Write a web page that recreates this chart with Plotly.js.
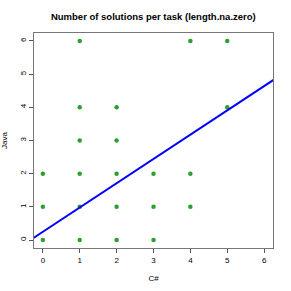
<!DOCTYPE html>
<html><head><meta charset="utf-8">
<script src="https://cdn.plot.ly/plotly-3.0.1.min.js"></script>
<style>html,body{margin:0;padding:0;background:#fff}#c{width:291px;height:291px}</style>
</head><body><div id="c"></div>
<script>
const csharp = [1,4,5, 1,2,5, 1,2, 0,1,2,3,4, 0,1,2,3,4, 0,1,2,3];
const java   = [6,6,6, 4,4,4, 3,3, 2,2,2,2,2, 1,1,1,1,1, 0,0,0,0];
const fitIntercept = 0.25;
const fitSlope = 0.732;
const lineX = [-0.5, 6.5];
const lineY = lineX.map(x => fitIntercept + fitSlope * x);
const xTicks = [0,1,2,3,4,5,6];
const yTicks = [0,1,2,3,4,5,6];

const font = {family: 'Liberation Sans, Arial, sans-serif', color: '#000'};
Plotly.newPlot('c', [
  {x: csharp, y: java, type: 'scatter', mode: 'markers',
   marker: {color: '#2ca02c', size: 4.5}, cliponaxis: true, hoverinfo: 'none'},
  {x: lineX, y: lineY, type: 'scatter', mode: 'lines',
   line: {color: '#0000ff', width: 2}, hoverinfo: 'none'}
], {
  width: 291, height: 291,
  margin: {l: 34, r: 18, t: 33, b: 43},
  paper_bgcolor: '#fff', plot_bgcolor: '#fff',
  showlegend: false,
  font: Object.assign({size: 8}, font),
  title: {text: '<b>Number of solutions per task (length.na.zero)</b>', x: 0.527, xanchor: 'center', y: 0.942, yanchor: 'middle',
          font: Object.assign({size: 9.5}, font)},
  xaxis: {range: [-0.24, 6.24], tickvals: xTicks, ticktext: xTicks.map(String),
          showgrid: false, zeroline: false, showline: true, mirror: true, linecolor: '#777', linewidth: 1,
          ticks: 'outside', ticklen: 4, tickcolor: '#555', tickfont: Object.assign({size: 8}, font),
          title: {text: 'C#', font: Object.assign({size: 8}, font), standoff: 11}},
  yaxis: {range: [-0.24, 6.24], tickvals: yTicks, ticktext: yTicks.map(String), tickangle: -90,
          showgrid: false, zeroline: false, showline: true, mirror: true, linecolor: '#777', linewidth: 1,
          ticks: 'outside', ticklen: 4, tickcolor: '#555', tickfont: Object.assign({size: 8}, font),
          title: {text: 'Java', font: Object.assign({size: 8}, font), standoff: 9}}
}, {staticPlot: true});
</script></body></html>
